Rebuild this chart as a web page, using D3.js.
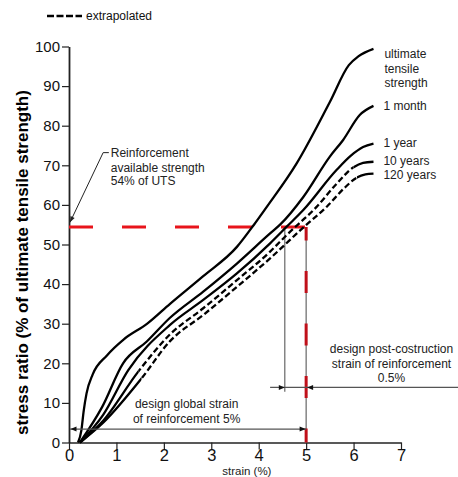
<!DOCTYPE html>
<html><head><meta charset="utf-8">
<script src="https://cdn.jsdelivr.net/npm/d3@7"></script>
<style>body{margin:0;background:#fff} text{font-family:"Liberation Sans",Arial,sans-serif}</style>
</head><body><svg id="c" width="458" height="477"></svg>
<script>
// ---- data ----
const strainTicks = [0, 1, 2, 3, 4, 5, 6, 7];
const stressTicks = [0, 10, 20, 30, 40, 50, 60, 70, 80, 90, 100];
const seriesNames = ["ultimate tensile strength", "1 month", "1 year", "10 years", "120 years"];
const ultimate = [[0.19,0],[0.26,3],[0.31,8],[0.37,12.4],[0.5,17.2],[0.8,22],[1.15,26],[1.65,30],[2.13,35],[2.83,42],[3.54,49.4],[3.9,55],[4.17,59.5],[4.8,70.5],[5.5,86],[5.9,95.3],[6.1,97.5],[6.42,99.4]];
const month1 = [[0.23,0],[0.7,9],[1.14,20],[1.64,25.5],[2.13,31.5],[2.83,38.1],[3.54,45.2],[4.24,52.8],[4.45,55],[4.94,62],[5.5,72.2],[5.78,76.4],[6.13,82.7],[6.42,85]];
const year1 = [[0.23,0],[0.72,7],[1.25,18.3],[2.13,29.7],[2.83,36],[3.54,42.7],[4.24,50.3],[4.59,54.5],[4.94,58.7],[5.64,68.8],[5.95,72.5],[6.2,74.6],[6.42,75.5]];
const years10 = [[0.23,0],[0.72,5.5],[1.46,17.9],[2.13,27.3],[2.83,33.9],[3.54,41],[4.24,48.2],[4.59,52.4],[5.22,59.5],[5.64,65.3],[6.0,69.5],[6.2,70.6],[6.42,70.9]];
const years120 = [[0.23,0],[0.72,5],[1.53,16.2],[2.13,25.6],[2.83,32.2],[3.54,39.3],[4.24,46.5],[4.95,54.4],[5.44,59.6],[5.8,64.2],[6.07,66.9],[6.25,67.7],[6.42,67.9]];
const seriesValues = [ultimate, month1, year1, years10, years120];
// extrapolated (dashed) strain ranges per series, null = solid
const extrapolatedRange = [null, null, null, [1.46, 6.0], [1.53, 6.07]];
// curve labels: [text, strain, stress baseline]
const curveLabels = [["ultimate",6.65,97.0],["tensile",6.65,93.3],["strength",6.65,89.8],["1 month",6.63,84.0],["1 year",6.63,74.5],["10 years",6.63,70.0],["120 years",6.63,66.5]];
const availableStrength = 54.4;   // % of UTS (red line)
const designStrain = 5;           // design global strain %
const postConstructionStart = 4.55;

// ---- layout ----
const svg = d3.select("#c");
svg.append("rect").attr("width",458).attr("height",477).attr("fill","#fff");
const x = d3.scaleLinear().domain([0,7]).range([69,401]);
const y = d3.scaleLinear().domain([0,100]).range([442.5,46.5]);

// axes
const gx = svg.append("g").attr("transform",`translate(0,${y(0)})`)
  .call(d3.axisBottom(x).tickValues(strainTicks).tickSize(7).tickSizeOuter(0).tickFormat(d3.format("d")));
gx.select(".domain").attr("stroke","#222").attr("stroke-width",1.5);
gx.selectAll(".tick line").attr("stroke","#222").attr("stroke-width",1.2);
gx.selectAll(".tick text").attr("y",18.5).attr("dy",0).attr("font-size",16.5).attr("fill","#111");

const gy = svg.append("g").attr("transform",`translate(${x(0)},0)`)
  .call(d3.axisLeft(y).tickValues(stressTicks).tickSize(7).tickSizeOuter(0));
gy.select(".domain").attr("stroke","#222").attr("stroke-width",1.8);
gy.selectAll(".tick line").attr("stroke","#222").attr("stroke-width",1.2);
gy.selectAll(".tick text").attr("x",-9).attr("font-size",15).attr("fill","#111");
svg.selectAll(".tick text").attr("font-family","Liberation Sans, Arial, sans-serif");

// axis titles
svg.append("text").attr("transform",`translate(28,${(y(0)+y(100))/2+18}) rotate(-90)`)
  .attr("text-anchor","middle").attr("font-size",17).attr("font-weight","bold").attr("fill","#000")
  .text("stress ratio (% of ultimate tensile strength)");
svg.append("text").attr("x",x(3.75)).attr("y",474.6).attr("text-anchor","middle").attr("font-size",11.5).attr("fill","#222").text("strain (%)");

// legend
svg.append("line").attr("x1",47).attr("x2",82).attr("y1",16).attr("y2",16)
  .attr("stroke","#000").attr("stroke-width",2.5).attr("stroke-dasharray","7,2.5");
svg.append("text").attr("x",86).attr("y",20).attr("font-size",12).attr("fill","#111").text("extrapolated");

// red available-strength line & design strain line
svg.append("line").attr("x1",x(0)).attr("x2",x(designStrain)).attr("y1",y(availableStrength)).attr("y2",y(availableStrength))
  .attr("stroke","#e8141b").attr("stroke-width",3).attr("stroke-dasharray","24,29");
// gray verticals
svg.append("line").attr("x1",x(designStrain)).attr("x2",x(designStrain)).attr("y1",y(availableStrength)).attr("y2",y(0))
  .attr("stroke","#666").attr("stroke-width",1.2);
svg.append("line").attr("x1",x(postConstructionStart)).attr("x2",x(postConstructionStart)).attr("y1",y(availableStrength)).attr("y2",y(12.8))
  .attr("stroke","#666").attr("stroke-width",1.2);
svg.append("line").attr("x1",x(designStrain)).attr("x2",x(designStrain)).attr("y1",y(availableStrength)).attr("y2",y(0))
  .attr("stroke","#c0101a").attr("stroke-width",3).attr("stroke-dasharray","22,30.5").attr("stroke-dashoffset",8.5);

// curves
const line = d3.line().x(d=>x(d[0])).y(d=>y(d[1])).curve(d3.curveMonotoneX);
const defs = svg.append("defs");
seriesValues.forEach((vals,i)=>{
  const r = extrapolatedRange[i];
  if(!r){
    svg.append("path").attr("d",line(vals)).attr("fill","none").attr("stroke","#000").attr("stroke-width",2.3);
  } else {
    const cs = defs.append("clipPath").attr("id","solid"+i);
    cs.append("rect").attr("x",0).attr("y",0).attr("width",x(r[0])).attr("height",477);
    cs.append("rect").attr("x",x(r[1])).attr("y",0).attr("width",458-x(r[1])).attr("height",477);
    const cd = defs.append("clipPath").attr("id","dash"+i);
    cd.append("rect").attr("x",x(r[0])).attr("y",0).attr("width",x(r[1])-x(r[0])).attr("height",477);
    svg.append("path").attr("d",line(vals)).attr("fill","none").attr("stroke","#000").attr("stroke-width",2.3).attr("clip-path",`url(#solid${i})`);
    svg.append("path").attr("d",line(vals)).attr("fill","none").attr("stroke","#000").attr("stroke-width",2.3)
      .attr("stroke-dasharray","6,3").attr("clip-path",`url(#dash${i})`);
  }
});

// curve labels
curveLabels.forEach(l=>{
  svg.append("text").attr("x",x(l[1])).attr("y",y(l[2])).attr("font-size",12).attr("fill","#222").text(l[0]);
});

// arrowhead helper
function arrowHead(xt, yt, dir){ // dir: 1 points right, -1 left
  svg.append("path").attr("d",`M${xt},${yt} L${xt-dir*6},${yt-2.5} L${xt-dir*6},${yt+2.5} Z`).attr("fill","#111");
}
// global strain arrow
const yA = y(3.4);
svg.append("line").attr("x1",x(0)+1).attr("x2",x(designStrain)).attr("y1",yA).attr("y2",yA).attr("stroke","#555").attr("stroke-width",1.2);
arrowHead(x(0)+1.5, yA, -1); arrowHead(x(designStrain)-0.5, yA, 1);
svg.append("text").attr("x",x(2.48)).attr("y",y(8.6)).attr("text-anchor","middle").attr("font-size",12).attr("fill","#222").text("design global strain");
svg.append("text").attr("x",x(2.48)).attr("y",y(4.85)).attr("text-anchor","middle").attr("font-size",12).attr("fill","#222").text("of reinforcement 5%");

// post-construction arrow
const yB = y(13.9);
svg.append("line").attr("x1",x(4.24)).attr("x2",458).attr("y1",yB).attr("y2",yB).attr("stroke","#555").attr("stroke-width",1.2);
arrowHead(x(postConstructionStart), yB, 1); arrowHead(x(designStrain)+1, yB, -1);
[["design post-costruction",22.5],["strain of reinforcement",18.9],["0.5%",15.35]].forEach(t=>{
  svg.append("text").attr("x",x(6.8)).attr("y",y(t[1])).attr("text-anchor","middle").attr("font-size",12).attr("fill","#222").text(t[0]);
});

// reinforcement available strength note
[["Reinforcement",72.0],["available strength",68.4],["54% of UTS",64.9]].forEach(t=>{
  svg.append("text").attr("x",x(0.88)).attr("y",y(t[1])).attr("font-size",12).attr("fill","#222").text(t[0]);
});
svg.append("path").attr("d",`M${x(0.84)},${y(73.2)} L${x(0.72)},${y(73.2)} L${x(0)+1},${y(55.6)}`)
  .attr("fill","none").attr("stroke","#222").attr("stroke-width",1);
(function(){
  const tx=x(0)+1, ty=y(55.6), sx=x(0.72), sy=y(73.2);
  const a=Math.atan2(ty-sy, tx-sx);
  const L=6, W=2.3;
  const bx=tx-L*Math.cos(a), by=ty-L*Math.sin(a);
  svg.append("path").attr("d",`M${tx},${ty} L${bx+W*Math.sin(a)},${by-W*Math.cos(a)} L${bx-W*Math.sin(a)},${by+W*Math.cos(a)} Z`).attr("fill","#222");
})();
</script></body></html>
